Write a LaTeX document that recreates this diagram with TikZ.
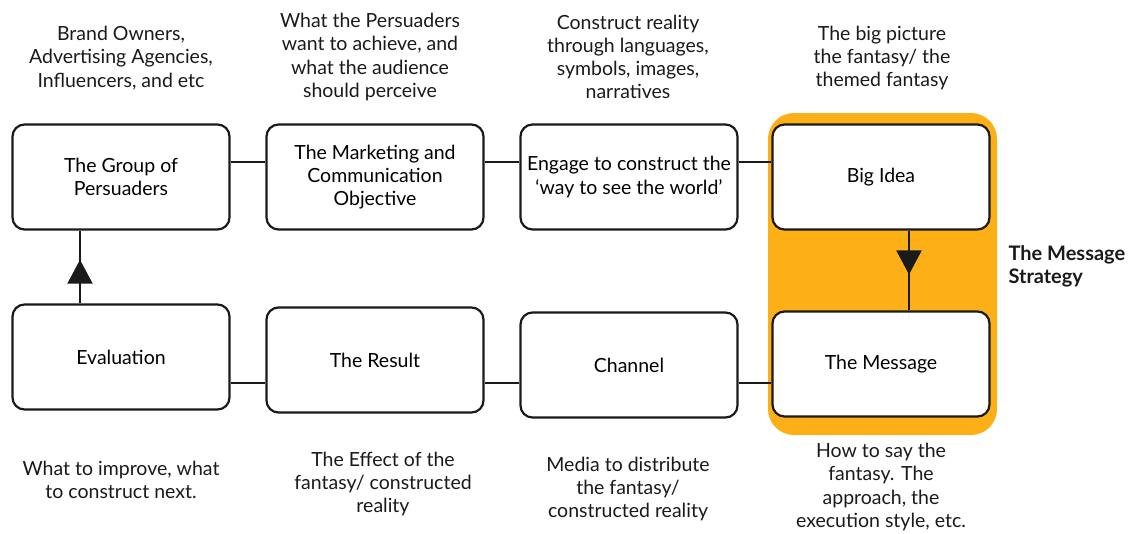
\documentclass[tikz,border=0pt]{standalone}
\usepackage{fontspec}
\setmainfont{Lato}
\usetikzlibrary{arrows.meta,decorations.markings}
\definecolor{strategy}{HTML}{FCAF17}
\definecolor{ink}{HTML}{1A1A1A}
\begin{document}
\begin{tikzpicture}[x=1pt,y=-1pt,
  font=\fontsize{19.5}{23.2}\selectfont,
  stepbox/.style={draw=ink, line width=2.2pt, rounded corners=12pt, fill=white,
    minimum width=217pt, minimum height=105pt, align=center, inner sep=1pt},
  note/.style={align=center, text=ink},
  link/.style={draw=ink, line width=2pt},
  flowmark/.style={postaction=decorate, decoration={markings,
    mark=at position #1 with {\arrow{Triangle[length=24pt,width=25pt]}}}}]
\useasboundingbox (0,0) rectangle (1130,533);

% highlighted message strategy region
\fill[strategy, rounded corners=26pt] (768,113) rectangle (997,435);

% top row
\node[stepbox] (group) at (121,177) {The Group of\\Persuaders};
\node[stepbox] (objective) at (375,177) {The Marketing and\\Communication\\Objective};
\node[stepbox] (engage) at (629,177) {Engage to construct the\\‘way to see the world’};
\node[stepbox] (bigidea) at (881,177) {Big Idea};

% bottom row
\node[stepbox] (evaluation) at (121,357) {Evaluation};
\node[stepbox] (result) at (375,360) {The Result};
\node[stepbox] (channel) at (629,365) {Channel};
\node[stepbox] (message) at (881,364) {The Message};

% connectors
\draw[link] (group.east |- 0,162) -- (objective.west |- 0,162);
\draw[link] (objective.east |- 0,162) -- (engage.west |- 0,162);
\draw[link] (engage.east |- 0,162) -- (bigidea.west |- 0,162);
\draw[link] (evaluation.east |- 0,383) -- (result.west |- 0,383);
\draw[link] (result.east |- 0,383) -- (channel.west |- 0,383);
\draw[link] (channel.east |- 0,383) -- (message.west |- 0,383);
\draw[link, flowmark=0.6] (evaluation.north -| 80,0) -- (group.south -| 80,0);
\draw[link, flowmark=0.55] (bigidea.south -| 909,0) -- (message.north -| 909,0);

% descriptions
\node[note] (d1) at (121,58) {Brand Owners,\\Advertising Agencies,\\Influencers, and etc};
\node[note] (d2) at (370,57) {What the Persuaders\\want to achieve, and\\what the audience\\should perceive};
\node[note] (d3) at (628,57) {Construct reality\\through languages,\\symbols, images,\\narratives};
\node[note] (d4) at (882,58) {The big picture\\the fantasy/ the\\themed fantasy};
\node[note] (d5) at (121,480) {What to improve, what\\to construct next.};
\node[note] (d6) at (383,484) {The Effect of the\\fantasy/ constructed\\reality};
\node[note] (d7) at (628,489) {Media to distribute\\the fantasy/\\constructed reality};
\node[note] (d8) at (881,487) {How to say the\\fantasy. The\\approach, the\\execution style, etc.};
\node[note, anchor=west, align=left, font=\fontsize{20}{23.2}\selectfont\bfseries] (strat) at (1005,266) {The Message\\Strategy};
\end{tikzpicture}
\end{document}
